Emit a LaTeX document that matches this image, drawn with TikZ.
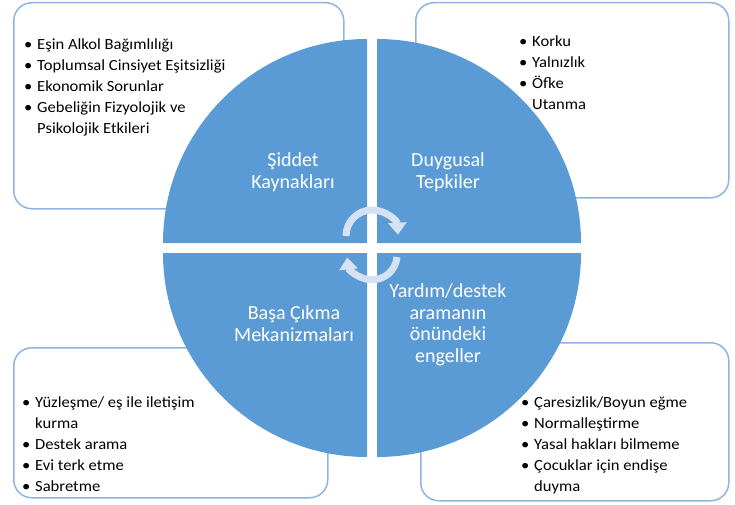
\documentclass[tikz,border=0pt]{standalone}
\usepackage{fontspec}
\setmainfont{Carlito}
\newfontfamily\listfont{Carlito}[FakeStretch=1.07]
\usetikzlibrary{arrows.meta,positioning}
\definecolor{quadblue}{RGB}{91,155,213}
\definecolor{boxline}{RGB}{141,180,226}
\definecolor{cyclefill}{RGB}{212,226,243}
\newcommand{\blt}{\makebox[13pt][l]{\textbullet}}
\newcommand{\cnt}{\hspace*{13pt}}

\begin{document}
\begin{tikzpicture}[x=1pt,y=1pt,
  listbox/.style={draw=boxline, line width=1.5pt, rounded corners=18pt, inner sep=0pt},
  listtext/.style={anchor=north west, align=left, inner sep=0pt, font=\listfont\fontsize{15.5}{20.8}\selectfont},
  quad/.style={fill=quadblue},
  quadlabel/.style={text=white, align=center, inner sep=0pt, font=\fontsize{20}{21.5}\selectfont},
  cyclearrow/.style={draw=cyclefill, line width=7pt, -{Triangle[width=18pt,length=12pt]}}]

	\useasboundingbox (0,0) rectangle (735,-505);

	% BOXES

	\node[listbox, minimum width=330, minimum height=206, anchor=north west] (boxtl) at (13,-2) {};
	\node[listbox, minimum width=313, minimum height=195, anchor=north west] (boxtr) at (415,-2) {};
	\node[listbox, minimum width=314, minimum height=150, anchor=north west] (boxbl) at (13,-347) {};
	\node[listbox, minimum width=308, minimum height=158, anchor=north west] (boxbr) at (420,-342) {};

	% CIRCLE

	\fill[quad] (367,-243) -- ++(-204,0) arc[start angle=180, end angle=90, radius=204] -- cycle;
	\fill[quad] (377,-243) -- ++(204,0) arc[start angle=0, end angle=90, radius=204] -- cycle;
	\fill[quad] (367,-253) -- ++(-204,0) arc[start angle=180, end angle=270, radius=204] -- cycle;
	\fill[quad] (377,-253) -- ++(204,0) arc[start angle=0, end angle=-90, radius=204] -- cycle;

	\node[quadlabel] (kaynak) at (293,-172) {Şiddet\\Kaynakları};
	\node[quadlabel] (tepki) at (448,-172) {Duygusal\\Tepkiler};
	\node[quadlabel] (basa) at (294,-323.5) {Başa Çıkma\\Mekanizmaları};
	\node[quadlabel] (engel) at (448,-325) {Yardım/destek\\aramanın\\önündeki\\engeller};

	% ARROWS

	\coordinate (cycletop) at (346,-236);
	\coordinate (cyclebot) at (397,-257);
	\draw[cyclearrow] (cycletop) arc[start angle=180, end angle=3, radius=26];
	\draw[cyclearrow] (cyclebot) arc[start angle=-5, end angle=-174, radius=25];

	% LISTS

	\node[listtext] (listtl) at (24,-39) {\blt Eşin Alkol Bağımlılığı\\
		\blt Toplumsal Cinsiyet Eşitsizliği\\
		\blt Ekonomik Sorunlar\\
		\blt Gebeliğin Fizyolojik ve\\
		\cnt Psikolojik Etkileri};
	\node[listtext] (listtr) at (519,-36) {\blt Korku\\
		\blt Yalnızlık\\
		\blt Öfke\\
		\cnt Utanma};
	\node[listtext] (listbl) at (22,-397) {\blt Yüzleşme/ eş ile iletişim\\
		\cnt kurma\\
		\blt Destek arama\\
		\blt Evi terk etme\\
		\blt Sabretme};
	\node[listtext] (listbr) at (521,-397) {\blt Çaresizlik/Boyun eğme\\
		\blt Normalleştirme\\
		\blt Yasal hakları bilmeme\\
		\blt Çocuklar için endişe\\
		\cnt duyma};
\end{tikzpicture}
\end{document}
